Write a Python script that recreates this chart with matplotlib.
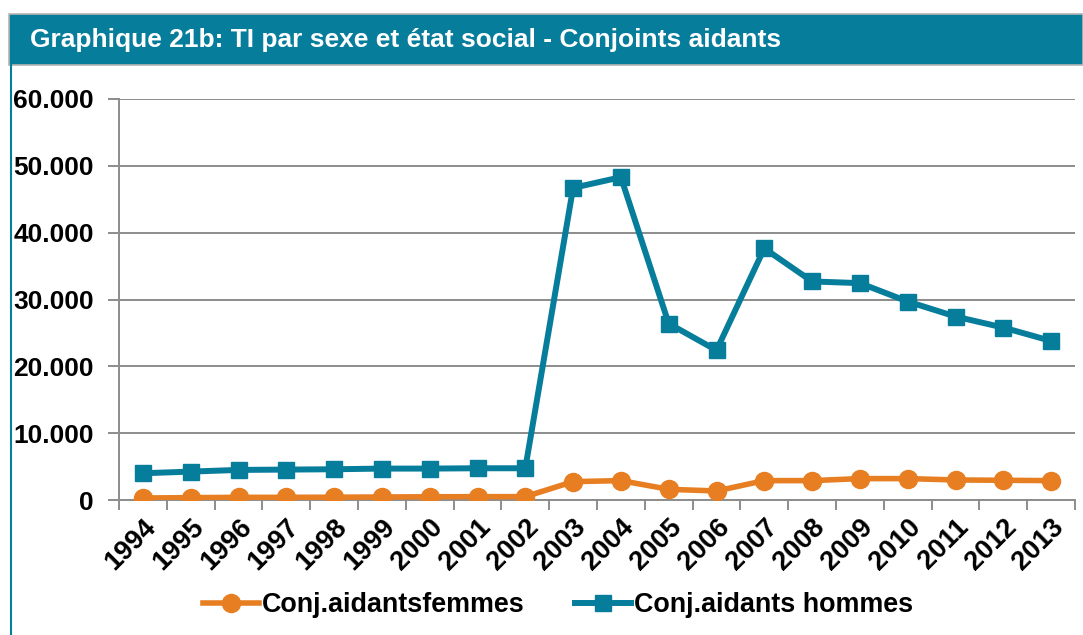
import matplotlib
matplotlib.use("Agg")
import matplotlib.pyplot as plt
from matplotlib.patches import Rectangle
from matplotlib.lines import Line2D
import numpy as np

plt.rcParams["font.family"] = ["Liberation Sans", "DejaVu Sans"]

years = [str(y) for y in range(1994, 2014)]
femmes = [300, 350, 400, 400, 420, 450, 480, 500, 500, 2750,
          2900, 1600, 1350, 2900, 2900, 3200, 3200, 3000, 2950, 2900]
hommes = [4000, 4250, 4500, 4550, 4600, 4700, 4700, 4750, 4750, 46700,
          48300, 26400, 22400, 37650, 32700, 32450, 29700, 27450, 25800, 23800]
y_ticks = [0, 10000, 20000, 30000, 40000, 50000, 60000]
y_labels = ["0", "10.000", "20.000", "30.000", "40.000", "50.000", "60.000"]
title = "Graphique 21b: TI par sexe et état social - Conjoints aidants"
names = ["Conj.aidantsfemmes", "Conj.aidants hommes"]

TEAL = "#077d9c"
ORANGE = "#e87e22"
GRID = "#8c8c8c"
W, H = 1083, 635

fig = plt.figure(figsize=(W / 100, H / 100), dpi=100)

# title banner + frame
fig.patches.append(Rectangle((9 / W, 1 - 65 / H), 1 - 9 / W, 51 / H,
                             transform=fig.transFigure, facecolor=TEAL,
                             edgecolor="#b5b5b5", linewidth=1.2))
fig.lines.append(Line2D([10.5 / W, 10.5 / W], [0, 1 - 65 / H],
                        transform=fig.transFigure, color=TEAL, linewidth=1.5))
fig.text(30 / W, 1 - 40 / H, title, color="white", fontsize=19,
         fontweight="bold", va="center", ha="left")

ax = fig.add_axes([119 / W, 1 - 500 / H, (1075 - 119) / W, (500 - 99) / H])
x = np.arange(len(years))

ax.plot(x, femmes, color=ORANGE, lw=4, marker="o", markersize=13,
        label=names[0], zorder=3, solid_joinstyle="round")
ax.plot(x, hommes, color=TEAL, lw=4.3, marker="s", markersize=12,
        label=names[1], zorder=4, solid_joinstyle="round")

ax.set_xlim(-0.5, len(years) - 0.5)
ax.set_ylim(0, 60000)
ax.set_yticks(y_ticks)
ax.set_yticklabels(y_labels, fontsize=19, fontweight="bold")
ax.yaxis.grid(True, color=GRID, linewidth=1.4)
ax.set_axisbelow(True)

ax.set_xticks(x)
ax.set_xticklabels(years, rotation=45, ha="right", va="top",
                   rotation_mode="anchor", fontsize=19.5, fontweight="bold")
ax.set_xticks(np.arange(len(years) + 1) - 0.5, minor=True)
ax.tick_params(axis="x", which="major", length=0, pad=10)
ax.tick_params(axis="x", which="minor", length=7, width=1.4, color=GRID)
ax.tick_params(axis="y", length=8, width=1.4, color=GRID, pad=10)

for s in ("top", "right"):
    ax.spines[s].set_visible(False)
for s in ("left", "bottom"):
    ax.spines[s].set_color(GRID)
    ax.spines[s].set_linewidth(1.4)

fig.legend(*ax.get_legend_handles_labels(), loc="center",
           bbox_to_anchor=(558 / W, 1 - 605 / H), ncol=2, frameon=False,
           prop={"size": 19.4, "weight": "bold"}, handlelength=2.1,
           handletextpad=0.1, columnspacing=1.85)

fig.savefig("out.png", dpi=100)
